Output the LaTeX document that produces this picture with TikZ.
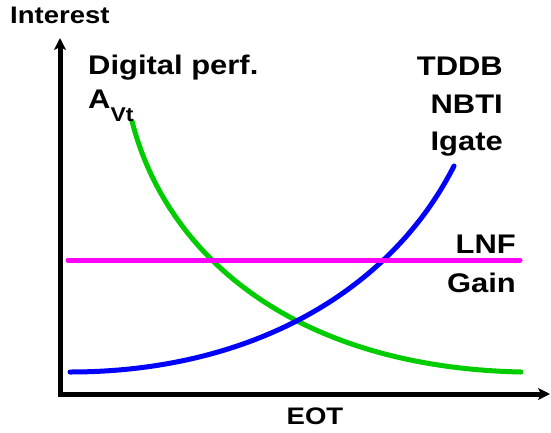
\documentclass[tikz,border=0pt]{standalone}
\usepackage{fontspec}
\setmainfont{Liberation Sans}
\usetikzlibrary{arrows.meta}

\definecolor{curvegreen}{RGB}{0,204,0}
\definecolor{curveblue}{RGB}{0,0,255}
\definecolor{lnfpink}{RGB}{255,0,255}

\tikzset{
  lbl/.style={inner sep=0pt, xscale=1.15,
    font=\fontsize{27}{32}\selectfont\bfseries},
  axlbl/.style={lbl, font=\fontsize{24}{28}\selectfont\bfseries},
  axis/.style={line width=5bp, line join=miter,
    {Stealth[length=12bp,width=12bp,inset=3bp]}-{Stealth[length=12bp,width=12bp,inset=3bp]}},
  trend/.style={line width=5bp, line cap=round}
}

\begin{document}
\begin{tikzpicture}[x=1bp,y=1bp]
    \useasboundingbox (0,0) rectangle (551,432);

    % Axes
    \coordinate (origin) at (60,38);
    \coordinate (ytop) at (60,394);
    \coordinate (xend) at (550,38);
    \draw[axis] (ytop) -- (origin) -- (xend);
    \node[axlbl, anchor=base west] (ylabel) at (10,408) {Interest};
    \node[axlbl, anchor=base] (xlabel) at (315,8) {EOT};

    % Falling curve: digital performance and matching
    \draw[trend, curvegreen] (132,311) .. controls (165,180) and (290,65) .. (521,60);
    \node[lbl, anchor=base west] (digital) at (88,358) {Digital perf.};
    \node[lbl, anchor=base west] (avt) at (88,324)
      {A\raisebox{-13bp}{\fontsize{20}{20}\selectfont Vt}};

    % Rising curve: reliability and leakage
    \draw[trend, curveblue] (70,60) .. controls (250,60) and (390,140) .. (454,266);
    \node[lbl, anchor=base east] (tddb) at (503,357) {TDDB};
    \node[lbl, anchor=base east] (nbti) at (503,319) {NBTI};
    \node[lbl, anchor=base east] (igate) at (503,282) {Igate};

    % Flat line: noise and gain
    \draw[trend, lnfpink] (68,172) -- (520,172);
    \node[lbl, anchor=base east] (lnf) at (516,179) {LNF};
    \node[lbl, anchor=base east] (gain) at (516,140) {Gain};

\end{tikzpicture}
\end{document}
